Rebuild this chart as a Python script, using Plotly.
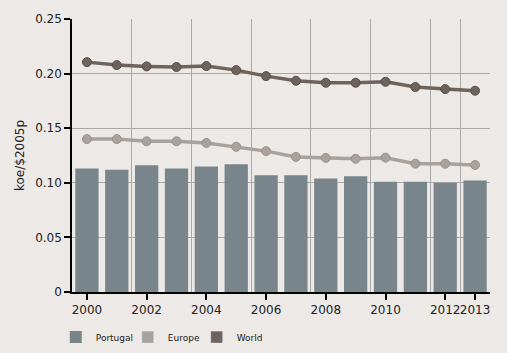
import plotly.graph_objects as go

years = list(range(2000, 2014))
portugal = [0.113, 0.112, 0.116, 0.113, 0.115, 0.117, 0.107, 0.107, 0.104, 0.106, 0.101, 0.101, 0.100, 0.102]
europe = [0.140, 0.140, 0.138, 0.138, 0.1365, 0.133, 0.129, 0.1237, 0.1228, 0.122, 0.123, 0.1175, 0.1175, 0.1163]
world = [0.2105, 0.2078, 0.2066, 0.206, 0.2069, 0.2032, 0.1977, 0.1934, 0.1916, 0.1916, 0.1925, 0.1877, 0.1858, 0.1843]
xtick_vals = [2000, 2002, 2004, 2006, 2008, 2010, 2012, 2013]
xgrid_vals = [2001.5, 2003.5, 2005.5, 2007.5, 2009.5, 2011.5, 2012.5, 2013.5]
ytick_vals = [0, 0.05, 0.10, 0.15, 0.20, 0.25]
ytick_text = ["0", "0.05", "0.10", "0.15", "0.20", "0.25"]

C_PT = "#78858a"
C_EU = "#a9a19c"
C_W = "#6e625d"
BG = "#ece9e6"
FONT = "DejaVu Sans"

fig = go.Figure()
fig.add_trace(go.Bar(x=years, y=portugal, name="Portugal", marker=dict(color=C_PT, line=dict(width=0)),
                     width=0.78, showlegend=True, legend="legend"))
fig.add_trace(go.Scatter(x=years, y=europe, name="Europe", mode="lines+markers",
                         line=dict(color=C_EU, width=3.5),
                         marker=dict(color=C_EU, size=9, line=dict(color="#9c938e", width=1)),
                         showlegend=False))
fig.add_trace(go.Scatter(x=years, y=world, name="World", mode="lines+markers",
                         line=dict(color=C_W, width=3.5),
                         marker=dict(color=C_W, size=9, line=dict(color="#5a4f4a", width=1)),
                         showlegend=False))
# legend swatches for the line series
fig.add_trace(go.Bar(x=[None], y=[None], name="Europe", marker=dict(color=C_EU), showlegend=True, legend="legend2"))
fig.add_trace(go.Bar(x=[None], y=[None], name="World", marker=dict(color=C_W), showlegend=True, legend="legend3"))
# overlay axis used for the vertical gridlines between year pairs
fig.add_trace(go.Scatter(x=[None], y=[None], xaxis="x2", showlegend=False, hoverinfo="skip"))

def leg(xpos):
    return dict(orientation="h", x=xpos, xref="container", xanchor="left",
                y=0.045, yref="container", yanchor="middle",
                font=dict(size=9, color="#222"), bgcolor="rgba(0,0,0,0)", itemwidth=30)

fig.update_layout(
    width=507, height=353,
    margin=dict(l=72, r=17, t=19, b=61, autoexpand=False),
    paper_bgcolor=BG, plot_bgcolor=BG,
    font=dict(family=FONT, size=12, color="#222"),
    barmode="overlay",
    showlegend=True,
    legend=leg(0.110),
    legend2=leg(0.252),
    legend3=leg(0.388),
    xaxis=dict(range=[1999.5, 2013.5], tickvals=xtick_vals, ticktext=[str(v) for v in xtick_vals],
               tickangle=0, automargin=False,
               showgrid=False, zeroline=False, showline=True, linecolor="#000", linewidth=1.5,
               ticks="outside", ticklen=6, tickcolor="#000", tickwidth=1.5,
               tickfont=dict(size=12, color="#222")),
    xaxis2=dict(range=[1999.5, 2013.5], overlaying="x", tickvals=xgrid_vals, showticklabels=False,
                showgrid=True, gridcolor="#a8a8a8", gridwidth=1, zeroline=False, showline=False, ticks=""),
    yaxis=dict(range=[0, 0.25], tickvals=ytick_vals, ticktext=ytick_text, automargin=False,
               showgrid=True, gridcolor="#a8a8a8", gridwidth=1, zeroline=False,
               showline=True, linecolor="#000", linewidth=1.5,
               ticks="outside", ticklen=6, tickcolor="#000", tickwidth=1.5,
               tickfont=dict(size=12, color="#222"),
               title=dict(text="koe/$2005p", font=dict(size=12, color="#222"), standoff=8)),
)

fig.write_html("out.html")
